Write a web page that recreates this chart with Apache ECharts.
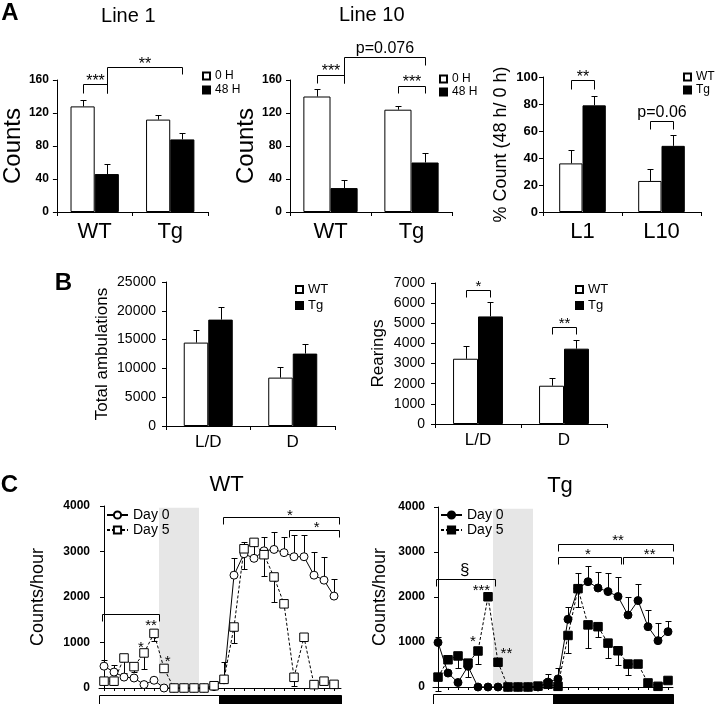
<!DOCTYPE html>
<html><head><meta charset="utf-8">
<script src="https://cdn.jsdelivr.net/npm/echarts@6/dist/echarts.min.js"></script>
<style>html,body{margin:0;padding:0;background:#fff}#c{width:720px;height:704px}</style>
</head><body><div id="c"></div><script>
// ---------------- DATA ----------------
// Panel A
const aCats = ['WT', 'Tg'];
const line1_0h = [128, 112];
const line1_0h_err = [8, 6];
const line1_48h = [46, 88];
const line1_48h_err = [12, 8];
const line10_0h = [140, 124];
const line10_0h_err = [9, 5];
const line10_48h = [29, 60];
const line10_48h_err = [10, 11];
const pctCats = ['L1', 'L10'];
const pct_WT = [36, 23];
const pct_WT_err = [10, 9];
const pct_Tg = [79, 49];
const pct_Tg_err = [7, 8];
// Panel B
const bCats = ['L/D', 'D'];
const amb_WT = [14480, 8400];
const amb_WT_err = [2260, 1840];
const amb_Tg = [18470, 12570];
const amb_Tg_err = [2190, 1740];
const rear_WT = [3240, 1900];
const rear_WT_err = [645, 365];
const rear_Tg = [5340, 3740];
const rear_Tg_err = [695, 430];
// Panel C (hour of recording)
const hours = [0,1,2,3,4,5,6,7,8,9,10,11,12,13,14,15,16,17,18,19,20,21,22,23];
const wtDay0 = [480,350,240,220,75,170,0,0,0,0,0,30,180,2480,2950,2850,3015,3045,2975,2885,2885,2480,2370,2020];
const wtDay0_err = [130,160,0,0,0,0,0,0,0,0,0,0,0,370,260,330,310,390,350,475,475,515,500,365];
const wtDay5 = [150,150,660,470,770,1200,430,0,0,0,0,50,190,1340,3060,3200,2930,2440,1850,235,1115,75,150,80];
const wtDay5_err = [0,-80,-320,-120,-345,-175,0,0,0,0,0,0,380,-360,-440,0,-470,-540,0,-200,0,0,0,0];
const tgDay0 = [990,310,100,460,0,0,0,0,0,0,0,110,180,1505,2185,2340,2200,2120,2010,1600,1920,1340,1030,1230];
const tgDay0_err = [130,0,0,0,0,0,0,0,0,0,0,170,240,280,340,345,360,405,440,390,380,370,385,240];
const tgDay5 = [220,605,690,530,800,2005,550,0,0,0,20,60,15,1145,2185,1380,1340,975,805,510,510,90,15,145];
const tgDay5_err = [-300,0,-270,-310,-285,0,0,0,0,0,0,0,0,-395,-400,-515,-220,-335,-310,-240,0,0,0,0];
const shadeHours = [[5.5, 9.5, 3960]];
const phases = [[-0.5, 11.5, 0], [11.5, 24, 1]]; // 0 light, 1 dark

// significance annotations
const line1Brackets = [
  {from:[0,-1], to:[0,1], y:154.8, leftTo:144.6, rightTo:144.6, text:'***', labelY:162},
  {from:[0,1], to:[1,1], y:176.2, leftTo:144.6, rightTo:167.3, text:'**', labelY:182.5}
];
const line10Brackets = [
  {from:[0,-1], to:[0,1], y:166, leftTo:156.7, rightTo:156.7, text:'***', labelY:174},
  {from:[0,1], to:[1,1], y:188, leftTo:156.7, rightTo:178, text:'p=0.076', labelY:198},
  {from:[1,-1], to:[1,1], y:152.7, leftTo:143.9, rightTo:143.9, text:'***', labelY:161}
];
const pctBrackets = [
  {from:[0,-1], to:[0,1], y:97.6, leftTo:91.4, rightTo:91.4, text:'**', labelY:102.5},
  {from:[1,-1], to:[1,1], y:67.4, leftTo:61.8, rightTo:61.8, text:'p=0.06', labelY:73.6}
];
const rearBrackets = [
  {from:[0,-1], to:[0,1], y:6633, leftTo:6285, rightTo:6285, text:'*', labelY:6950},
  {from:[1,-1], to:[1,1], y:4816, leftTo:4468, rightTo:4468, text:'**', labelY:5144}
];
const wtBrackets = [[-0.23, 5.5, 1623], [11.87, 23.53, 3753], [18.53, 23.53, 3473]];
const wtMarks = [[4.7, 1432, '**'], [3.7, 963, '*'], [6.37, 648, '*'], [18.6, 3855, '*'], [21.27, 3584, '*']];
const tgBrackets = [[-0.16, 5.67, 2392], [12.0, 23.5, 3174], [12.0, 18.27, 2893], [18.5, 23.5, 2893]];
const tgMarks = [[2.67, 2598, '§'], [4.34, 2206, '***'], [3.5, 1070, '*'], [6.84, 804, '**'], [18.0, 3313, '**'], [15.0, 3019, '*'], [21.17, 3019, '**']];

// ---------------- HELPERS ----------------
const F = '"Liberation Sans", Arial, Helvetica, sans-serif';
const K = '#000';
const chart = echarts.init(document.getElementById('c'), null, {renderer: 'canvas'});

function catX(idx, cats, fs, margin) {
  return {type:'category', gridIndex:idx, data:cats, boundaryGap:true,
    axisLine:{lineStyle:{color:K, width:1}},
    axisTick:{show:true, length:4, lineStyle:{color:K}},
    axisLabel:{color:K, fontSize:fs, margin:margin, fontFamily:F}};
}
function valY(idx, max, interval, o) {
  return {type:'value', gridIndex:idx, min:0, max:max, interval:interval,
    axisLine:{show:true, lineStyle:{color:K, width:1}},
    axisTick:{show:true, length:4, lineStyle:{color:K}},
    splitLine:{show:false},
    axisLabel:{color:K, fontSize:o.fs, fontWeight:o.bold?'bold':'normal', margin:o.margin, fontFamily:F,
      formatter: v => String(v)},
    name:o.name, nameLocation:'middle', nameGap:o.gap,
    nameTextStyle:{color:K, fontSize:o.nfs, fontFamily:F}};
}
function hourX(idx, max) {
  return {type:'value', gridIndex:idx, min:-0.5, max:max, interval:1,
    axisLine:{show:true, onZero:false, lineStyle:{color:K, width:1}},
    axisTick:{show:true, length:3, customValues:hours, lineStyle:{color:K}},
    axisLabel:{show:false}, splitLine:{show:false}};
}
function bars(idx, name, data, dark, gap) {
  return {type:'bar', name:name, xAxisIndex:idx, yAxisIndex:idx, data:data,
    barGap:'0%', barCategoryGap:gap + '%', silent:true, z:2,
    itemStyle:{color:dark?K:'#fff', borderColor:K, borderWidth:1}};
}
function barErr(idx, vals, errs, side, gap) {
  return {type:'custom', xAxisIndex:idx, yAxisIndex:idx, silent:true, z:3,
    data: vals.map((v,i)=>[i, v, errs[i]]), encode:{x:0, y:1},
    renderItem: function(params, api) {
      const c = api.value(0), v = api.value(1), e = api.value(2);
      const band = api.size([1,0])[0];
      const bw = band*(1-gap/100)/2;
      const p = api.coord([c, v]);
      const x = Math.round(p[0] + side*bw/2) + 0.5;
      const yt = Math.round(api.coord([c, v+e])[1]) + 0.5;
      return {type:'group', children:[
        {type:'line', shape:{x1:x, y1:p[1], x2:x, y2:yt}, style:{stroke:K, lineWidth:1}},
        {type:'line', shape:{x1:x-3, y1:yt, x2:x+3, y2:yt}, style:{stroke:K, lineWidth:1}}
      ]};
    }};
}
function starOffset(t, fs) { return /^\*+$/.test(t) ? 0.22*fs : 0; }
function barBrackets(idx, list, gap, fs) {
  return {type:'custom', xAxisIndex:idx, yAxisIndex:idx, silent:true, z:5,
    data: list.map((b,i)=>[b.from[0], b.y, i]), encode:{x:0, y:1},
    renderItem: function(params, api) {
      const b = list[params.dataIndex];
      const band = api.size([1,0])[0];
      const bw = band*(1-gap/100)/2;
      const px = c => Math.round(api.coord([c[0], 0])[0] + c[1]*bw/2) + 0.5;
      const py = v => Math.round(api.coord([0, v])[1]) + 0.5;
      const x1 = px(b.from), x2 = px(b.to), y = py(b.y);
      return {type:'group', children:[
        {type:'polyline', shape:{points:[[x1, py(b.leftTo)], [x1, y], [x2, y], [x2, py(b.rightTo)]]},
          style:{stroke:K, lineWidth:1, fill:null}},
        {type:'text', style:{text:b.text, x:(x1+x2)/2, y:api.coord([0, b.labelY])[1] + starOffset(b.text, fs),
          align:'center', verticalAlign:'middle', fontSize:fs, fontFamily:F, fill:K}}
      ]};
    }};
}
function cLine(idx, name, vals, symbol, filled, dashed) {
  return {type:'line', name:name, xAxisIndex:idx, yAxisIndex:idx,
    data: hours.map((h,i)=>[h, vals[i]]),
    symbol:symbol, symbolSize:symbol==='circle'?8:8.5, showSymbol:true, showAllSymbol:true,
    lineStyle:{color:K, width:1, type:dashed?[3,2]:'solid'},
    itemStyle:{color:filled?K:'#fff', borderColor:K, borderWidth:1},
    z:4, silent:true};
}
function cErr(idx, vals, errs) {
  return {type:'custom', xAxisIndex:idx, yAxisIndex:idx, silent:true, z:3,
    data: hours.map((h,i)=>[h, vals[i], errs[i]]).filter(d=>d[2]!==0), encode:{x:0, y:1},
    renderItem: function(params, api) {
      const h = api.value(0), v = api.value(1), e = api.value(2);
      const p = api.coord([h, v]);
      const x = Math.round(p[0]) + 0.5;
      const yt = Math.round(api.coord([h, v+e])[1]) + 0.5;
      return {type:'group', children:[
        {type:'line', shape:{x1:x, y1:p[1], x2:x, y2:yt}, style:{stroke:K, lineWidth:1}},
        {type:'line', shape:{x1:x-3, y1:yt, x2:x+3, y2:yt}, style:{stroke:K, lineWidth:1}}
      ]};
    }};
}
function cBrackets(idx, list) {
  return {type:'custom', xAxisIndex:idx, yAxisIndex:idx, silent:true, z:5,
    data:list, encode:{x:0, y:2},
    renderItem: function(params, api) {
      const a = api.coord([api.value(0), api.value(2)]);
      const b = api.coord([api.value(1), api.value(2)]);
      const x1 = Math.round(a[0])+0.5, x2 = Math.round(b[0])+0.5, y = Math.round(a[1])+0.5;
      return {type:'polyline', shape:{points:[[x1, y+7], [x1, y], [x2, y], [x2, y+7]]},
        style:{stroke:K, lineWidth:1, fill:null}};
    }};
}
function cMarks(idx, list, fs) {
  return {type:'custom', xAxisIndex:idx, yAxisIndex:idx, silent:true, z:6,
    data:list.map(m=>[m[0], m[1]]), encode:{x:0, y:1},
    renderItem: function(params, api) {
      const m = list[params.dataIndex];
      const p = api.coord([m[0], m[1]]);
      const big = m[2] === '§';
      return {type:'text', style:{text:m[2], x:p[0], y:p[1] + starOffset(m[2], fs),
        align:'center', verticalAlign:'middle', fontSize:big?17:fs, fontFamily:F, fill:K}};
    }};
}
function cShade(idx) {
  return {type:'custom', xAxisIndex:idx, yAxisIndex:idx, silent:true, z:0,
    data:shadeHours, encode:{x:0, y:2},
    renderItem: function(params, api) {
      const a = api.coord([api.value(0), api.value(2)]);
      const b = api.coord([api.value(1), 0]);
      return {type:'rect', shape:{x:a[0], y:a[1], width:b[0]-a[0], height:b[1]-a[1]},
        style:{fill:'#e6e6e6'}};
    }};
}
function cPhase(idx) {
  return {type:'custom', xAxisIndex:idx, yAxisIndex:idx, silent:true, z:1,
    data:phases, encode:{x:0},
    renderItem: function(params, api) {
      const cs = params.coordSys;
      const x1 = Math.max(api.coord([api.value(0), 0])[0], cs.x);
      const x2 = Math.min(api.coord([api.value(1), 0])[0], cs.x + cs.width);
      const y0 = cs.y + cs.height;
      return {type:'rect', shape:{x:Math.round(x1)+0.5, y:Math.round(y0)+7.5, width:Math.round(x2-x1), height:10},
        style:{fill:api.value(2) ? K : '#fff', stroke:K, lineWidth:1}};
    }};
}
function gtext(text, x, y, fs, bold) {
  return {type:'text', x:x, y:y, silent:true,
    style:{text:text, fontSize:fs, fontWeight:bold?'bold':'normal', fontFamily:F, fill:K,
      align:'center', verticalAlign:'middle'}};
}
function barLegend(names, left, top, gapPx, fs) {
  return {data:names, orient:'vertical', left:left, top:top, padding:0, itemGap:gapPx,
    itemWidth:7, itemHeight:7, icon:'rect', selectedMode:false,
    textStyle:{fontSize:fs, color:K, fontFamily:F, lineHeight:fs}};
}
function lineLegend(names, left, top) {
  return {data:names, orient:'vertical', left:left, top:top, padding:0, itemGap:1,
    itemWidth:21, itemHeight:9, selectedMode:false,
    textStyle:{fontSize:14, color:K, fontFamily:F, lineHeight:14}};
}

// ---------------- OPTION ----------------
const option = {
  animation:false,
  textStyle:{fontFamily:F},
  grid:[
    {left:48, top:80, width:160, height:132},
    {left:290, top:80, width:162, height:132},
    {left:543, top:77, width:158, height:135},
    {left:166, top:282, width:169, height:144},
    {left:435, top:283, width:172, height:141},
    {left:99, top:506, width:242, height:182},
    {left:433, top:507, width:240, height:180}
  ],
  xAxis:[
    catX(0, aCats, 22, 9),
    catX(1, aCats, 22, 9),
    catX(2, pctCats, 22, 9),
    catX(3, bCats, 17, 8),
    catX(4, bCats, 17, 8),
    hourX(5, 23.7),
    hourX(6, 23.5)
  ],
  yAxis:[
    valY(0, 160, 40, {fs:12, bold:true, margin:8, name:'Counts', gap:26, nfs:24}),
    valY(1, 160, 40, {fs:12, bold:true, margin:8, name:'Counts', gap:28, nfs:24}),
    valY(2, 100, 20, {fs:13, bold:true, margin:5, name:'% Count (48 h/ 0 h)', gap:33, nfs:18}),
    valY(3, 25000, 5000, {fs:14, bold:false, margin:10, name:'Total ambulations', gap:55, nfs:17}),
    valY(4, 7000, 1000, {fs:14, bold:false, margin:10, name:'Rearings', gap:48, nfs:17}),
    valY(5, 4000, 1000, {fs:12, bold:true, margin:9, name:'Counts/hour', gap:52, nfs:18}),
    valY(6, 4000, 1000, {fs:12, bold:true, margin:8, name:'Counts/hour', gap:44, nfs:18})
  ],
  legend:[
    barLegend(['0 H', '48 H'], 202, 70, 2, 12),
    barLegend(['0 H', '48 H'], 439, 73, 1, 12),
    barLegend(['WT', 'Tg'], 683, 71, 1, 12),
    barLegend(['WT', 'Tg'], 295, 283, 3, 13),
    barLegend(['WT', 'Tg'], 575, 283, 3, 13),
    lineLegend(['Day 0', 'Day 5'], 106, 508),
    lineLegend(['Day 0 ', 'Day 5 '], 440, 508)
  ],
  series:[
    bars(0, '0 H', line1_0h, false, 36), bars(0, '48 H', line1_48h, true, 36),
    barErr(0, line1_0h, line1_0h_err, -1, 36), barErr(0, line1_48h, line1_48h_err, 1, 36),
    barBrackets(0, line1Brackets, 36, 16),

    bars(1, '0 H', line10_0h, false, 33), bars(1, '48 H', line10_48h, true, 33),
    barErr(1, line10_0h, line10_0h_err, -1, 33), barErr(1, line10_48h, line10_48h_err, 1, 33),
    barBrackets(1, line10Brackets, 33, 16),

    bars(2, 'WT', pct_WT, false, 41), bars(2, 'Tg', pct_Tg, true, 41),
    barErr(2, pct_WT, pct_WT_err, -1, 41), barErr(2, pct_Tg, pct_Tg_err, 1, 41),
    barBrackets(2, pctBrackets, 41, 16),

    bars(3, 'WT', amb_WT, false, 42), bars(3, 'Tg', amb_Tg, true, 42),
    barErr(3, amb_WT, amb_WT_err, -1, 42), barErr(3, amb_Tg, amb_Tg_err, 1, 42),

    bars(4, 'WT', rear_WT, false, 42), bars(4, 'Tg', rear_Tg, true, 42),
    barErr(4, rear_WT, rear_WT_err, -1, 42), barErr(4, rear_Tg, rear_Tg_err, 1, 42),
    barBrackets(4, rearBrackets, 42, 15),

    cShade(5), cPhase(5),
    cErr(5, wtDay0, wtDay0_err), cErr(5, wtDay5, wtDay5_err),
    cLine(5, 'Day 0', wtDay0, 'circle', false, false),
    cLine(5, 'Day 5', wtDay5, 'rect', false, true),
    cBrackets(5, wtBrackets), cMarks(5, wtMarks, 15),

    cShade(6), cPhase(6),
    cErr(6, tgDay0, tgDay0_err), cErr(6, tgDay5, tgDay5_err),
    cLine(6, 'Day 0 ', tgDay0, 'circle', true, false),
    cLine(6, 'Day 5 ', tgDay5, 'rect', true, true),
    cBrackets(6, tgBrackets), cMarks(6, tgMarks, 15)
  ],
  graphic:[
    gtext('A', 10, 13.5, 24, true),
    gtext('Line 1', 128.3, 16.7, 20, false),
    gtext('Line 10', 371.7, 15, 20, false),
    gtext('B', 63.3, 283.3, 24, true),
    gtext('C', 9.5, 485.5, 24, true),
    gtext('WT', 226.7, 485, 22, false),
    gtext('Tg', 560, 485.5, 22, false)
  ]
};
chart.setOption(option);
</script></body></html>
